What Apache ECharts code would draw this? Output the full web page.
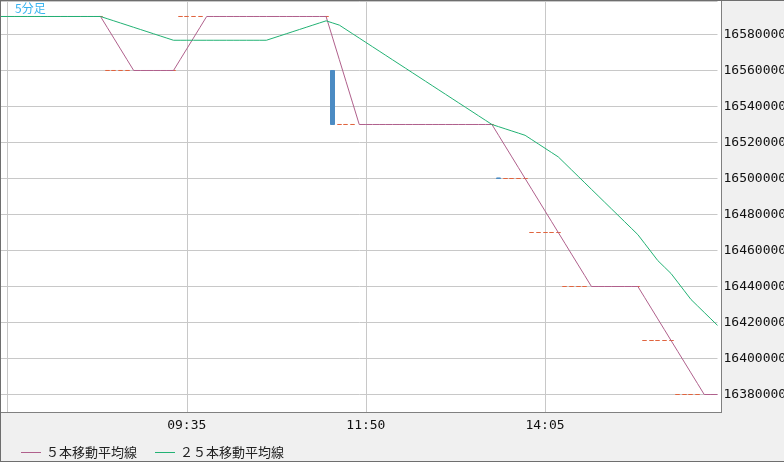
<!DOCTYPE html>
<html><head><meta charset="utf-8">
<script src="https://cdn.jsdelivr.net/npm/echarts@6/dist/echarts.min.js"></script>
<style>html,body{margin:0;padding:0;background:#f0f0f0}#c{width:784px;height:462px}</style>
</head><body><div id="c"></div>
<script>
// ---- data ----
const categories = [
 '07:15','07:20','07:25','07:30','07:35','07:40','07:45','07:50','07:55',
 '08:00','08:05','08:10','08:15','08:20','08:25','08:30','08:35','08:40','08:45','08:50','08:55',
 '09:00','09:05','09:10','09:15','09:20','09:25','09:30','09:35','09:40','09:45','09:50','09:55',
 '10:00','10:05','10:10','10:15','10:20','10:25','10:30','10:35','10:40','10:45','10:50','10:55',
 '11:00','11:05','11:10','11:15','11:20','11:25','11:30','11:35','11:40','11:45','11:50','11:55',
 '12:00','12:05','12:10','12:15','12:20','12:25','12:30','12:35','12:40','12:45','12:50','12:55',
 '13:00','13:05','13:10','13:15','13:20','13:25','13:30','13:35','13:40','13:45','13:50','13:55',
 '14:00','14:05','14:10','14:15','14:20','14:25','14:30','14:35','14:40','14:45','14:50','14:55',
 '15:00','15:05','15:10','15:15','15:20','15:25','15:30','15:35','15:40','15:45','15:50','15:55',
 '16:00','16:05','16:10','16:15'
];
const ma5Values = [
 16590000,16590000,16590000,16590000,16590000,16590000,16590000,16590000,16590000,
 16590000,16590000,16590000,16590000,16590000,16590000,16590000,16584000,16578000,16572000,16566000,16560000,
 16560000,16560000,16560000,16560000,16560000,16560000,16566000,16572000,16578000,16584000,16590000,16590000,
 16590000,16590000,16590000,16590000,16590000,16590000,16590000,16590000,16590000,16590000,16590000,16590000,
 16590000,16590000,16590000,16590000,16590000,16578000,16566000,16554000,16542000,16530000,16530000,16530000,
 16530000,16530000,16530000,16530000,16530000,16530000,16530000,16530000,16530000,16530000,16530000,16530000,
 16530000,16530000,16530000,16530000,16530000,16530000,16524000,16518000,16512000,16506000,16500000,16494000,
 16488000,16482000,16476000,16470000,16464000,16458000,16452000,16446000,16440000,16440000,16440000,16440000,
 16440000,16440000,16440000,16440000,16434000,16428000,16422000,16416000,16410000,16404000,16398000,16392000,
 16386000,16380000,16380000,16380000
];
const ma25Values = [
 16590000,16590000,16590000,16590000,16590000,16590000,16590000,16590000,16590000,
 16590000,16590000,16590000,16590000,16590000,16590000,16590000,16588800,16587600,16586400,16585200,16584000,
 16582800,16581600,16580400,16579200,16578000,16576800,16576800,16576800,16576800,16576800,16576800,16576800,
 16576800,16576800,16576800,16576800,16576800,16576800,16576800,16576800,16578000,16579200,16580400,16581600,
 16582800,16584000,16585200,16586400,16587600,16586400,16585200,16582800,16580400,16578000,16575600,16573200,
 16570800,16568400,16566000,16563600,16561200,16558800,16556400,16554000,16551600,16549200,16546800,16544400,
 16542000,16539600,16537200,16534800,16532400,16530000,16528800,16527600,16526400,16525200,16524000,16521600,
 16519200,16516800,16514400,16512000,16508400,16504800,16501200,16497600,16494000,16490400,16486800,16483200,
 16479600,16476000,16472400,16468800,16464000,16459200,16454400,16450800,16447200,16442400,16437600,16432800,
 16429200,16425600,16422000,16418400
];
const candleTimes = [
 '08:30','08:35','08:40','08:45','08:50','09:25','09:30','09:35','09:40','09:45',
 '11:20','11:25','11:30','11:35','11:40','13:25','13:30','13:35','13:40','13:45','13:50',
 '13:55','14:00','14:05','14:10','14:15','14:20','14:25','14:30','14:35','15:15',
 '15:20','15:25','15:30','15:35','15:40','15:45','15:50','15:55','16:00'
];
const candleOpen = [
 16590000,16560000,16560000,16560000,16560000,16560000,16590000,16590000,16590000,16590000,
 16590000,16560000,16530000,16530000,16530000,16530000,16500300,16500000,16500000,16500000,16500000,
 16470000,16470000,16470000,16470000,16470000,16440000,16440000,16440000,16440000,16440000,
 16410000,16410000,16410000,16410000,16410000,16380000,16380000,16380000,16380000
];
const candleClose = [
 16590000,16560000,16560000,16560000,16560000,16560000,16590000,16590000,16590000,16590000,
 16590000,16530000,16530000,16530000,16530000,16530000,16500000,16500000,16500000,16500000,16500000,
 16470000,16470000,16470000,16470000,16470000,16440000,16440000,16440000,16440000,16440000,
 16410000,16410000,16410000,16410000,16410000,16380000,16380000,16380000,16380000
];
const gridTimes = ['07:20','09:35','11:50','14:05'];
const labelTimes = ['09:35','11:50','14:05'];
const legendNames = ['５本移動平均線','２５本移動平均線'];
const titleText = '5分足';
const yMin = 16370278, yMax = 16598611;

// ---- build ----
const ORANGE = '#e0653f', BLUE = '#4b8bc3', PINK = '#b0608c', GREEN = '#22b274';
const candleData = categories.map(function (t) {
  const k = candleTimes.indexOf(t);
  if (k < 0) return '-';
  const o = candleOpen[k], c = candleClose[k];
  const col = o > c ? BLUE : ORANGE;
  return {
    value: [o, c, Math.min(o, c), Math.max(o, c)],
    itemStyle: { color: col, color0: col, borderColor: col, borderColor0: col, borderColorDoji: col }
  };
});

const chart = echarts.init(document.getElementById('c'));
chart.setOption({
  animation: false,
  backgroundColor: '#f0f0f0',
  title: {
    text: titleText, left: 15, top: 2, padding: 0,
    textStyle: { fontSize: 12, fontWeight: 'normal', color: '#3ab4ef', fontFamily: 'Noto Sans CJK JP' }
  },
  legend: {
    data: legendNames.map(function (n) { return { name: n, icon: 'rect' }; }),
    left: 16, top: 441, itemWidth: 20, itemHeight: 1, itemGap: 18,
    textStyle: { fontSize: 13, color: '#222', fontFamily: 'Noto Sans CJK JP' }
  },
  grid: { left: 1, top: 1, width: 716.5, height: 411, show: false, containLabel: false, outerBoundsMode: 'none' },
  xAxis: {
    type: 'category', data: categories, boundaryGap: false,
    axisLine: { show: false }, axisTick: { show: false },
    axisLabel: {
      interval: function (i, v) { return labelTimes.indexOf(v) >= 0; },
      margin: 7, color: '#111', fontSize: 13, fontFamily: 'DejaVu Sans Mono'
    },
    splitLine: {
      show: true,
      interval: function (i, v) { return gridTimes.indexOf(v) >= 0; },
      lineStyle: { color: '#c8c8c8', width: 1 }
    }
  },
  yAxis: {
    type: 'value', position: 'right', min: yMin, max: yMax, splitNumber: 11,
    axisLine: { show: false }, axisTick: { show: false },
    axisLabel: {
      margin: 6, color: '#111', fontSize: 13, fontFamily: 'DejaVu Sans Mono',
      showMinLabel: false, showMaxLabel: false,
      formatter: function (v) { return String(Math.round(v)); }
    },
    splitLine: { lineStyle: { color: '#c8c8c8', width: 1 } }
  },
  graphic: [
    { type: 'rect', z: -100, shape: { x: 1, y: 1, width: 720, height: 411 }, style: { fill: '#ffffff' } },
    { type: 'line', z: 50, shape: { x1: 721.5, y1: 0, x2: 721.5, y2: 413 }, style: { stroke: '#808080', lineWidth: 1 } },
    { type: 'line', z: 50, shape: { x1: 0, y1: 412.5, x2: 722, y2: 412.5 }, style: { stroke: '#808080', lineWidth: 1 } },
    { type: 'line', z: 50, shape: { x1: 0, y1: 0.5, x2: 784, y2: 0.5 }, style: { stroke: '#6e6e6e', lineWidth: 1 } },
    { type: 'line', z: 50, shape: { x1: 0.5, y1: 0, x2: 0.5, y2: 462 }, style: { stroke: '#6e6e6e', lineWidth: 1 } },
    { type: 'line', z: 50, shape: { x1: 0, y1: 461.5, x2: 784, y2: 461.5 }, style: { stroke: '#6e6e6e', lineWidth: 1 } }
  ],
  series: [
    {
      type: 'candlestick', data: candleData, barWidth: 4.5, z: 2,
      itemStyle: { color: ORANGE, color0: BLUE, borderColor: ORANGE, borderColor0: BLUE, borderColorDoji: ORANGE, borderWidth: 1 }
    },
    {
      name: legendNames[0], type: 'line', data: ma5Values, symbol: 'none', z: 3,
      lineStyle: { color: PINK, width: 1 }, itemStyle: { color: PINK }
    },
    {
      name: legendNames[1], type: 'line', data: ma25Values, symbol: 'none', z: 3,
      lineStyle: { color: GREEN, width: 1 }, itemStyle: { color: GREEN }
    }
  ]
});
</script></body></html>
